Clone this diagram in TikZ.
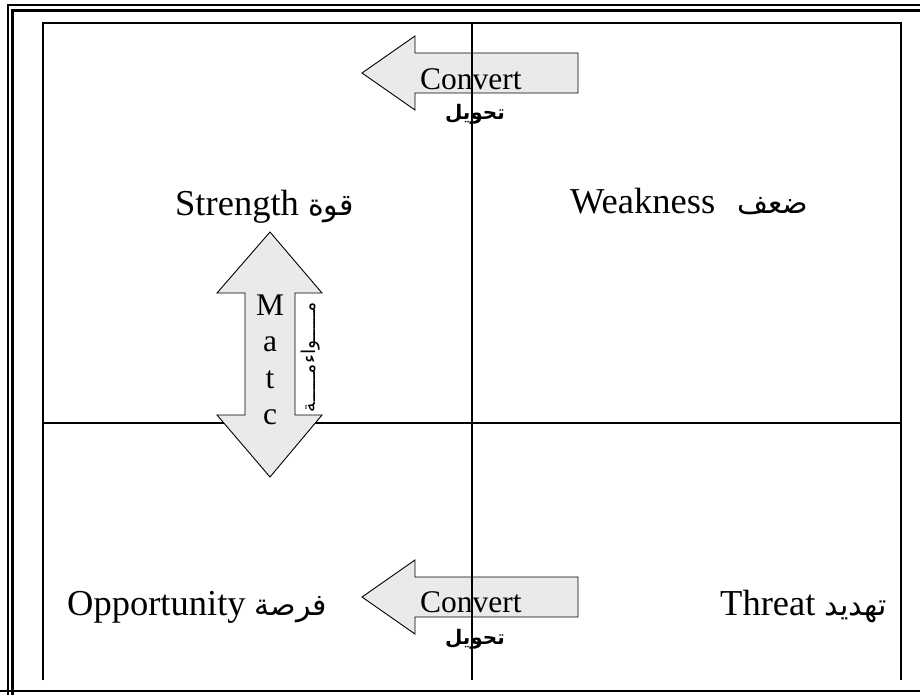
\documentclass[tikz,border=0pt]{standalone}
\usepackage{fontspec}
\setmainfont{Liberation Serif}
\newfontfamily\arabicfont[Script=Arabic]{DejaVu Sans}
\TeXXeTstate=1
\definecolor{arrowgray}{RGB}{234,234,234}
\newcommand{\artext}[1]{{\arabicfont\fontsize{30}{32}\selectfont\beginR #1\endR}}

\begin{document}
\begin{tikzpicture}[x=1pt,y=-1pt,
        every node/.style={inner sep=0pt},
        frameline/.style={line width=2.4pt},
        boxline/.style={line width=1.8pt},
        blockarrow/.style={draw,fill=arrowgray,line width=0.9pt,line join=miter},
        quadlabel/.style={anchor=base west,font=\fontsize{36.5}{40}\selectfont},
        arrowlabel/.style={anchor=base west,font=\fontsize{31.5}{34}\selectfont},
        boldar/.style={font=\arabicfont\bfseries\fontsize{20}{22}\selectfont}]

    \useasboundingbox (0,0) rectangle (920,695);
    \clip (0,0) rectangle (920,695);

    % double page frame
    \draw[frameline] (8,700) -- (8,5) -- (930,5);
    \draw[frameline] (12.5,700) -- (12.5,10.5) -- (930,10.5);
    \draw[frameline] (0,691) -- (930,691);

    % inner box and the horizontal split
    \draw[boxline] (43,680) -- (43,23) -- (901,23) -- (901,680);
    \draw[boxline] (43,423) -- (901,423);

    % convert arrows
    \foreach \cy in {73,597}
        \draw[blockarrow] (578,{\cy-20}) -- (415,{\cy-20}) -- (415,{\cy-37}) -- (362,\cy)
            -- (415,{\cy+37}) -- (415,{\cy+20}) -- (578,{\cy+20}) -- cycle;

    % match arrow
    \draw[blockarrow] (270,232) -- (322,293) -- (295,293) -- (295,415) -- (322,415)
        -- (270,477) -- (217,415) -- (245,415) -- (245,293) -- (217,293) -- cycle;

    % vertical split
    \draw[boxline] (472,23) -- (472,680);

    \node[arrowlabel] (convtop) at (420,90) {Convert};
    \node[boldar] (convtopar) at (475,114) {\beginR تحويل\endR};
    \node[arrowlabel] (convbot) at (420,612) {Convert};
    \node[boldar] (convbotar) at (475,639) {\beginR تحويل\endR};

    \foreach \ch [count=\i] in {M,a,t,c}
        \node[font=\fontsize{31.5}{34}\selectfont,anchor=base] (match\i) at (270,{315+36.5*(\i-1)}) {\ch};
    \node[rotate=90,font=\arabicfont\fontsize{19}{20}\selectfont] (matchar) at (311,357) {\beginR مـــــواءمـــــة\endR};

    \node[quadlabel] (strength) at (175,215) {Strength \artext{قوة}};
    \node[quadlabel] (weakness) at (570,213) {Weakness\hspace{22pt}\artext{ضعف}};
    \node[quadlabel] (opportunity) at (67,615) {Opportunity \artext{فرصة}};
    \node[quadlabel] (threat) at (720,615) {Threat \artext{تهديد}};

\end{tikzpicture}
\end{document}
